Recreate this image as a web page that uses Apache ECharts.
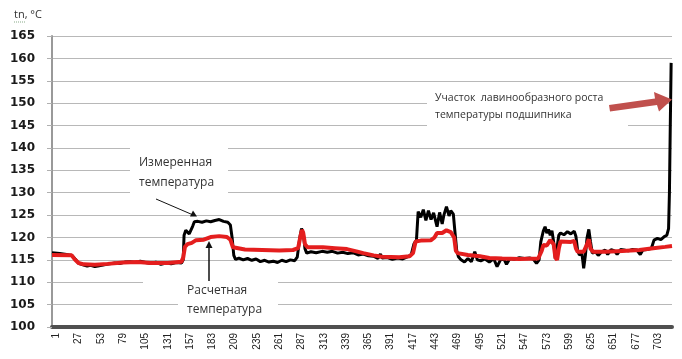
<!DOCTYPE html>
<html>
<head>
<meta charset="utf-8">
<script src="https://cdn.jsdelivr.net/npm/echarts@6/dist/echarts.min.js"></script>
<style>
  html, body { margin: 0; padding: 0; background: #fff; }
  #chart { width: 682px; height: 359px; }
</style>
</head>
<body>
<div id="chart"></div>
<script>
// tick positions (sample index) and their labels
const xTickValues = [0, 26, 52, 78, 104, 130, 156, 182, 208, 234, 260, 286, 312, 338, 364, 390, 416, 442, 468, 494, 520, 546, 572, 598, 624, 650, 676, 702]
const xTickLabels = ['1', '27', '53', '79', '105', '131', '157', '183', '209', '235', '261', '287', '313', '339', '365', '391', '417', '443', '469', '495', '521', '547', '573', '599', '625', '651', '677', '703']

// измеренная температура [index, °C]
const measured = [
  [-5, 116.6], [4, 116.4], [12, 116.2], [18, 116.0], [22, 115.2], [26, 114.2], [31, 113.9], [36, 113.6],
  [40, 113.8], [45, 113.5], [50, 113.7], [56, 113.9], [62, 114.1], [68, 114.3], [74, 114.2], [80, 114.5],
  [86, 114.6], [92, 114.4], [98, 114.7], [104, 114.4], [110, 114.2], [116, 114.5], [122, 114.0], [128, 114.3],
  [134, 114.1], [140, 114.4], [146, 114.3], [148, 115.0], [149, 120.5], [151, 121.6], [153, 121.8], [155, 120.8],
  [157, 120.6], [159, 122.5], [161, 123.5], [165, 123.6], [170, 123.4], [175, 123.7], [180, 123.5], [185, 123.8],
  [190, 124.0], [195, 123.6], [200, 123.4], [203, 122.8], [205, 120.0], [207, 116.0], [209, 115.1], [213, 115.4],
  [218, 115.0], [223, 115.3], [228, 114.9], [233, 115.2], [238, 114.6], [243, 114.9], [248, 114.5], [253, 114.7],
  [258, 114.4], [263, 114.9], [268, 114.6], [273, 115.0], [278, 114.8], [281, 115.6], [284, 120.0], [286, 122.0],
  [288, 121.0], [290, 117.5], [292, 116.5], [297, 116.8], [303, 116.6], [310, 116.9], [316, 116.7], [322, 116.9],
  [328, 116.5], [334, 116.7], [340, 116.4], [346, 116.6], [352, 116.1], [358, 116.3], [364, 115.9], [370, 115.8],
  [375, 115.3], [378, 116.3], [380, 115.4], [386, 115.5], [392, 115.1], [398, 115.4], [404, 115.2], [410, 115.7],
  [414, 116.2], [417, 118.5], [420, 119.4], [422, 125.8], [425, 124.5], [428, 126.2], [431, 123.8], [434, 126.0],
  [437, 124.0], [440, 125.5], [444, 122.4], [447, 125.6], [450, 123.0], [452, 125.0], [455, 126.9], [458, 124.8],
  [460, 126.0], [463, 125.2], [465, 121.0], [467, 117.0], [469, 115.7], [472, 115.0], [476, 114.5], [480, 115.3],
  [484, 114.6], [488, 116.8], [491, 115.0], [495, 114.8], [500, 115.2], [505, 114.5], [510, 115.3], [514, 113.5],
  [518, 115.0], [522, 115.2], [525, 114.0], [529, 115.3], [534, 115.1], [540, 115.5], [546, 115.3], [552, 115.4],
  [556, 115.2], [560, 114.2], [563, 115.0], [565, 119.0], [568, 121.5], [570, 122.4], [572, 121.0], [574, 121.8],
  [576, 120.5], [578, 121.5], [580, 119.0], [582, 115.2], [584, 115.0], [586, 120.5], [588, 121.0], [592, 120.6],
  [596, 121.3], [600, 120.8], [604, 121.4], [606, 120.2], [608, 117.0], [610, 116.1], [613, 116.4], [615, 113.1],
  [617, 116.0], [619, 120.0], [621, 121.8], [623, 119.0], [625, 116.5], [629, 116.8], [632, 116.0], [636, 116.8],
  [640, 117.2], [643, 116.2], [647, 117.3], [651, 117.0], [654, 116.2], [658, 117.3], [662, 117.2], [667, 117.0],
  [672, 117.3], [677, 117.2], [681, 116.2], [684, 117.2], [689, 117.3], [694, 117.6], [697, 119.4], [701, 119.8],
  [705, 119.5], [709, 120.2], [712, 120.5], [714, 122.0], [715, 130.0], [716, 145.0], [717, 159.0]
]

// расчетная температура [index, °C]
const calculated = [
  [-5, 116.1], [18, 116.0], [22, 115.0], [26, 114.3], [32, 114.0], [45, 113.9], [60, 114.1], [78, 114.4],
  [95, 114.5], [110, 114.3], [130, 114.3], [146, 114.6], [148, 115.5], [150, 117.9], [153, 118.5], [158, 118.8],
  [163, 119.4], [172, 119.5], [180, 120.1], [190, 120.3], [199, 120.1], [203, 119.5], [206, 117.8], [208, 117.4],
  [220, 117.3], [240, 117.2], [260, 117.1], [276, 117.2], [282, 117.6], [285, 120.5], [286.5, 121.7], [288, 121.0],
  [290, 118.5], [293, 117.8], [311, 117.8], [325, 117.6], [339, 117.4], [350, 116.9], [358, 116.5], [370, 116.0],
  [380, 115.7], [400, 115.6], [412, 115.8], [416, 116.5], [419, 119.1], [425, 119.3], [437, 119.4], [441, 120.0],
  [444, 121.0], [450, 121.0], [455, 121.6], [460, 121.2], [464, 120.0], [466, 117.0], [468, 116.5], [480, 116.1],
  [494, 115.8], [505, 115.4], [520, 115.3], [540, 115.2], [562, 115.3], [566, 117.0], [568, 118.3], [572, 118.2],
  [576, 119.4], [580, 118.5], [582, 115.5], [584, 115.0], [586, 117.5], [588, 119.1], [600, 119.0], [604, 119.2],
  [606, 117.5], [608, 116.8], [615, 116.8], [619, 118.5], [621, 119.6], [623, 117.5], [626, 116.8], [640, 116.8],
  [660, 117.0], [680, 117.2], [696, 117.6], [710, 117.9], [718, 118.1]
]

const chart = echarts.init(document.getElementById('chart'))

const noteFont = '"Open Sans", sans-serif'

const option = {
  animation: false,
  grid: { left: 52, right: 10, top: 36, bottom: 32 },
  xAxis: {
    type: 'value',
    min: -5,
    max: 718,
    axisLine: { show: true, onZero: false, lineStyle: { color: '#505050', width: 4 } },
    axisTick: { show: false },
    splitLine: { show: false },
    axisLabel: {
      customValues: xTickValues,
      rotate: 90,
      margin: 6,
      color: '#222',
      fontSize: 10,
      fontFamily: '"Liberation Sans", Arial, sans-serif',
      formatter: (v) => xTickLabels[xTickValues.indexOf(v)]
    }
  },
  yAxis: {
    type: 'value',
    min: 100,
    max: 165,
    interval: 5,
    axisLine: { show: true, onZero: false, lineStyle: { color: '#999', width: 2 } },
    axisTick: { show: true, length: 5, lineStyle: { color: '#b0b0b0' } },
    splitLine: { lineStyle: { color: '#b8b8b8', width: 1 } },
    axisLabel: {
      color: '#1a1a1a',
      fontSize: 12,
      fontWeight: 'bold',
      fontFamily: '"DejaVu Sans", Verdana, sans-serif',
      margin: 17
    }
  },
  series: [
    {
      name: 'Измеренная температура',
      type: 'line',
      showSymbol: false,
      z: 2,
      lineStyle: { color: '#000', width: 3 },
      data: measured
    },
    {
      name: 'Расчетная температура',
      type: 'line',
      showSymbol: false,
      z: 3,
      lineStyle: { color: '#e41e1e', width: 4 },
      data: calculated
    }
  ],
  graphic: [
    // подпись оси
    { type: 'text', left: 14, top: 9, style: { text: 'tn, °C', fill: '#333', font: '11px "Open Sans", sans-serif' } },
    { type: 'line', shape: { x1: 14, y1: 22, x2: 25, y2: 22 }, style: { stroke: '#8a8', lineWidth: 1, lineDash: [1, 1] } },

    // Измеренная температура
    { type: 'rect', shape: { x: 130, y: 145, width: 98, height: 50 }, style: { fill: '#fff' }, z: 10 },
    { type: 'text', x: 139, y: 153, z: 11, style: { text: 'Измеренная\nтемпература', fill: '#333', font: '12px ' + noteFont, lineHeight: 20 } },
    { type: 'line', z: 12, shape: { x1: 156, y1: 199, x2: 192, y2: 214.5 }, style: { stroke: '#111', lineWidth: 1 } },
    { type: 'polygon', z: 12, shape: { points: [[197, 216.5], [190, 216.5], [193, 210.5]] }, style: { fill: '#111' } },

    // Расчетная температура
    { type: 'rect', shape: { x: 143, y: 276, width: 135, height: 14 }, style: { fill: '#fff' }, z: 10 },
    { type: 'rect', shape: { x: 178, y: 288, width: 100, height: 30 }, style: { fill: '#fff' }, z: 10 },
    { type: 'text', x: 187, y: 281, z: 11, style: { text: 'Расчетная\nтемпература', fill: '#333', font: '12px ' + noteFont, lineHeight: 19 } },
    { type: 'line', z: 12, shape: { x1: 209, y1: 281, x2: 209, y2: 247 }, style: { stroke: '#111', lineWidth: 1.5 } },
    { type: 'polygon', z: 12, shape: { points: [[209, 241], [205.5, 248], [212.5, 248]] }, style: { fill: '#111' } },

    // Участок лавинообразного роста
    { type: 'rect', shape: { x: 427, y: 86, width: 201, height: 44 }, style: { fill: '#fff' }, z: 10 },
    { type: 'text', x: 435, y: 90, z: 11, style: { text: 'Участок  лавинообразного роста\nтемпературы подшипника', fill: '#333', font: '10.5px ' + noteFont, lineHeight: 17 } },
    { type: 'polygon', z: 12, shape: { points: [[609, 105], [655, 98.5], [654, 92], [672, 99.5], [659, 111.5], [657, 105], [610, 111.5]] }, style: { fill: '#c0504d' } }
  ]
}

chart.setOption(option)
window.addEventListener('resize', function () {
  chart.resize()
})
</script>
</body>
</html>
